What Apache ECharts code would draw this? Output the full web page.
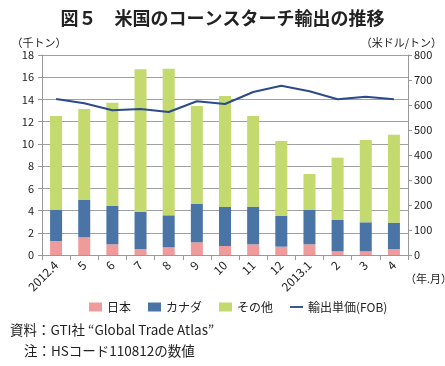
<!DOCTYPE html>
<html><head><meta charset="utf-8">
<script src="https://cdn.jsdelivr.net/npm/echarts@6/dist/echarts.min.js"></script>
<style>html,body{margin:0;padding:0;background:#fff}#c{width:445px;height:366px}</style>
</head><body><div id="c"></div>
<script>
const categories = ['2012.4','5','6','7','8','9','10','11','12','2013.1','2','3','4'];
const japan  = [1.26,1.59,0.96,0.54,0.69,1.14,0.81,0.96,0.75,0.96,0.33,0.33,0.54];
const canada = [2.79,3.36,3.48,3.33,2.88,3.48,3.51,3.39,2.79,3.09,2.82,2.61,2.37];
const other  = [8.45,8.19,9.27,12.84,13.20,8.79,9.99,8.15,6.72,3.24,5.61,7.41,7.92];
const price  = [624,607,579,584,572,615,604,652,677,655,623,633,623];
const leftTicks = [0,2,4,6,8,10,12,14,16,18];
const rightTicks = [0,100,200,300,400,500,600,700,800];

const FONT = '"Noto Sans CJK JP", "Noto Sans", sans-serif';
const chart = echarts.init(document.getElementById('c'));
chart.setOption({
  animation:false,
  textStyle:{fontFamily:FONT},
  title:{text:'図５　米国のコーンスターチ輸出の推移',left:'center',top:4,
    textStyle:{fontSize:18,fontWeight:'bold',color:'#222',fontFamily:FONT}},
  grid:{left:42,right:37,top:55,bottom:111},
  legend:{top:296,left:84,itemWidth:13,itemHeight:9,itemGap:17,
    textStyle:{fontSize:12,color:'#222'},
    data:[{name:'日本',icon:'rect'},{name:'カナダ',icon:'rect'},{name:'その他',icon:'rect'},
          {name:'輸出単価(FOB)',icon:'path://M0,4 L14,4 L14,6 L0,6 Z'}]},
  xAxis:{type:'category',data:categories,
    axisLine:{lineStyle:{color:'#999'}},
    axisTick:{show:true,alignWithLabel:false,length:5,lineStyle:{color:'#999'}},
    axisLabel:{rotate:45,fontSize:12,color:'#222',margin:8,interval:0}},
  yAxis:[
    {type:'value',min:leftTicks[0],max:leftTicks[leftTicks.length-1],interval:2,
     name:'（千トン）',nameLocation:'end',nameGap:7,nameTextStyle:{fontSize:11,color:'#222',align:'center',padding:[0,0,0,-6]},
     axisLine:{show:true,lineStyle:{color:'#999'}},axisTick:{show:true,length:4,lineStyle:{color:'#999'}},
     axisLabel:{fontSize:11,color:'#222',margin:8},
     splitLine:{lineStyle:{color:'#a0a0a0',width:1}}},
    {type:'value',min:rightTicks[0],max:rightTicks[rightTicks.length-1],interval:100,
     name:'（米ドル/トン）',nameLocation:'end',nameGap:7,nameTextStyle:{fontSize:11,color:'#222',align:'right',padding:[0,-34,0,0]},
     axisLine:{show:true,lineStyle:{color:'#999'}},axisTick:{show:true,length:4,lineStyle:{color:'#999'}},
     axisLabel:{fontSize:11,color:'#222',margin:6},
     splitLine:{show:false}}
  ],
  series:[
    {name:'日本',type:'bar',stack:'a',data:japan,barWidth:12,itemStyle:{color:'#F09B9B'}},
    {name:'カナダ',type:'bar',stack:'a',data:canada,barWidth:12,itemStyle:{color:'#4A74A6'}},
    {name:'その他',type:'bar',stack:'a',data:other,barWidth:12,itemStyle:{color:'#C4D96E'}},
    {name:'輸出単価(FOB)',type:'line',yAxisIndex:1,data:price,showSymbol:false,symbol:'none',
     lineStyle:{color:'#2D4A8A',width:2},itemStyle:{color:'#2D4A8A'}}
  ],
  graphic:[
    {type:'text',left:405,top:273,style:{text:'（年.月）',fontSize:11,fill:'#222',fontFamily:FONT}},
    {type:'text',left:10,top:323,style:{text:'資料：GTI社 “Global Trade Atlas”',fontSize:13.5,fill:'#222',fontFamily:FONT}},
    {type:'text',left:24,top:344,style:{text:'注：HSコード110812の数値',fontSize:13.5,fill:'#222',fontFamily:FONT}}
  ]
});
</script></body></html>
